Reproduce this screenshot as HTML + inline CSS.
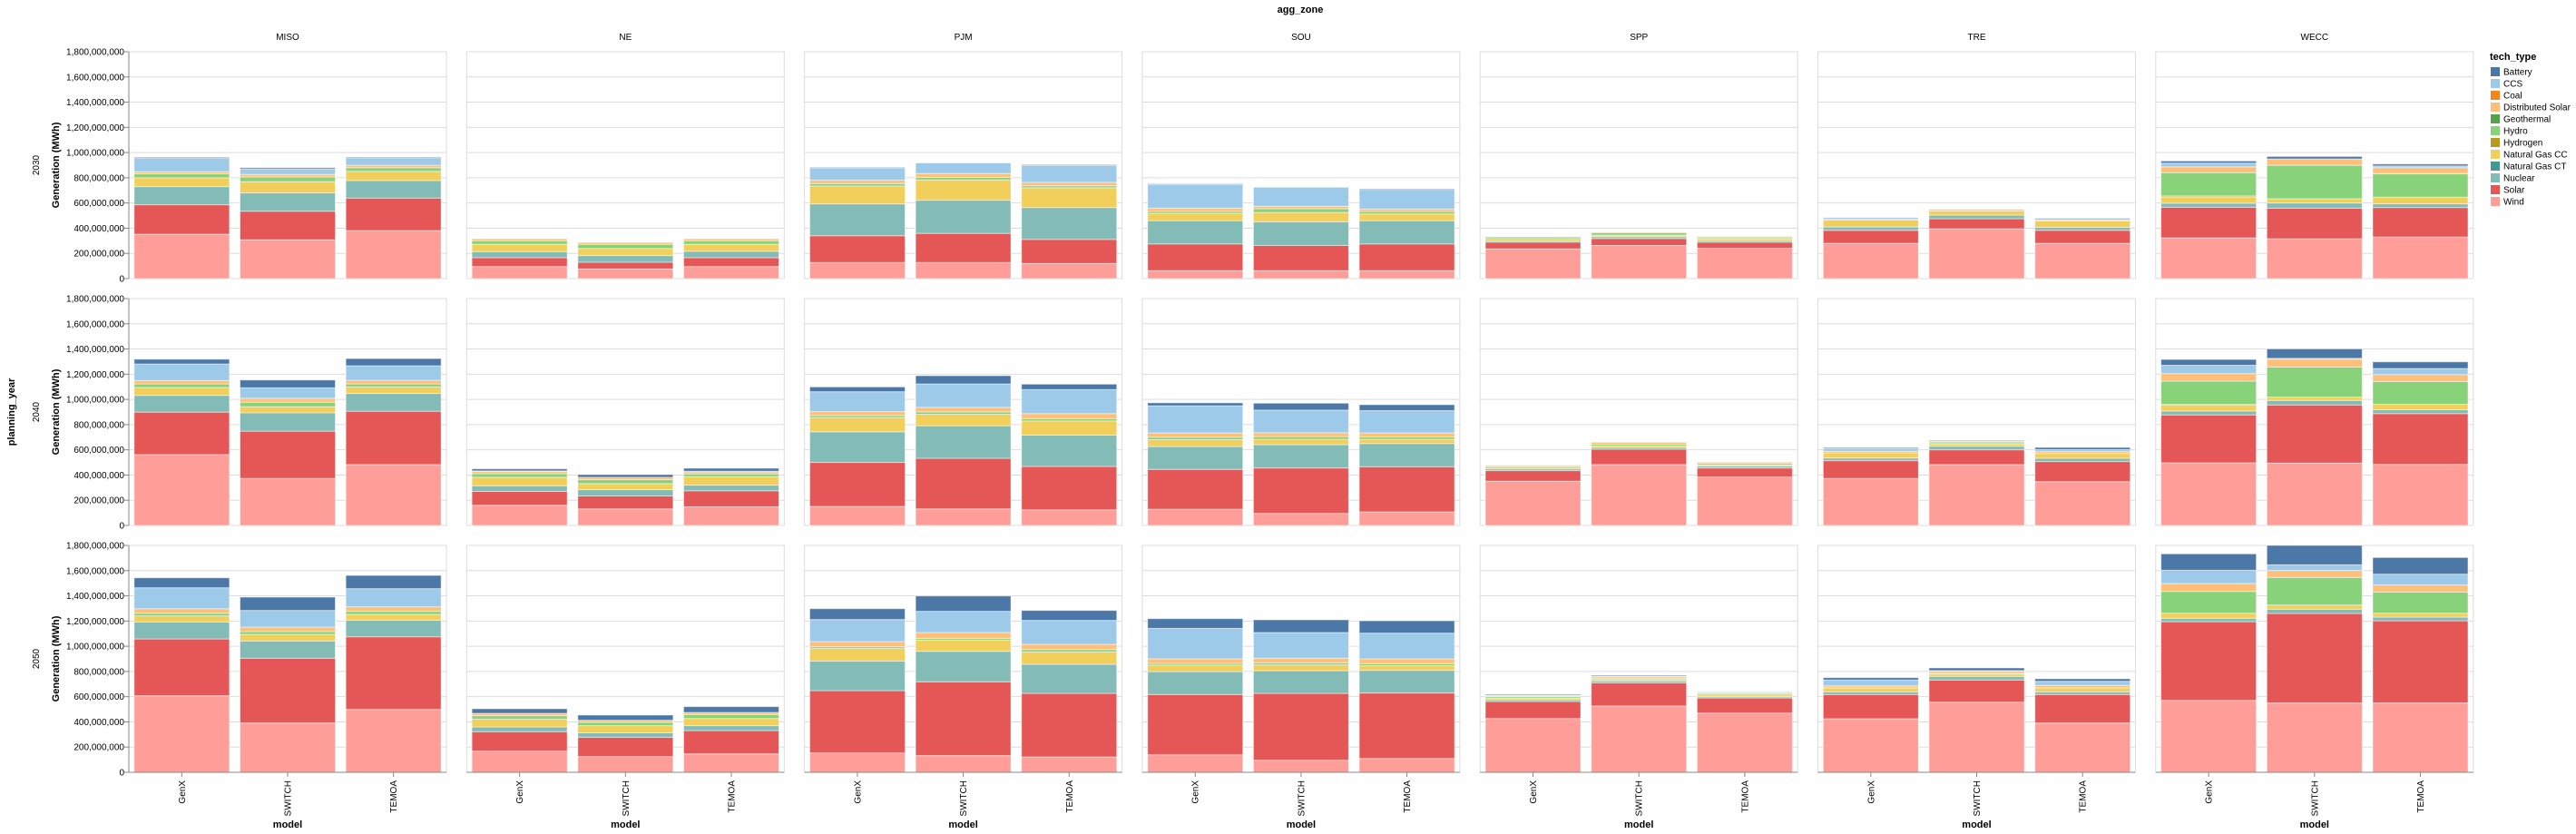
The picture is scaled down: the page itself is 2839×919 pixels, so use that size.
<!DOCTYPE html>
<html><head><meta charset="utf-8">
<style>
html,body{margin:0;padding:0;background:#fff;}
svg{display:block;font-family:"Liberation Sans",Arial,sans-serif;}
</style></head>
<body>
<svg id="chart" width="2839" height="919" viewBox="0 0 2839 919" xmlns="http://www.w3.org/2000/svg"></svg>
<script>
const zones = ["MISO","NE","PJM","SOU","SPP","TRE","WECC"];
const years = ["2030","2040","2050"];
const models = ["GenX","SWITCH","TEMOA"];
const yTicks = [0,200,400,600,800,1000,1200,1400,1600,1800];
const yTickLabels = ["0","200,000,000","400,000,000","600,000,000","800,000,000","1,000,000,000","1,200,000,000","1,400,000,000","1,600,000,000","1,800,000,000"];
const techs = ["Battery","CCS","Coal","Distributed Solar","Geothermal","Hydro","Hydrogen","Natural Gas CC","Natural Gas CT","Nuclear","Solar","Wind"];
const techColors = ["#4c78a8","#9ecae9","#f58518","#ffbf79","#54a24b","#88d27a","#b79a20","#f2cf5b","#439894","#83bcb6","#e45756","#ff9d98"];
// values in millions MWh; order: year x zone x model
const wind = [352,308,381,96,77,96,128,128,120,63,63,63,236,263,241,280,395,280,323,316,330,
562,373,483,160,131,148,151,131,124,129,96,108,351,483,385,373,483,347,497,495,485,
607,391,499,168,125,146,154,132,122,139,96,110,427,526,470,425,557,391,571,550,550];
const solar = [234,227,258,70,53,70,212,231,191,212,200,212,53,55,48,103,80,103,243,243,234,
337,375,423,110,103,127,349,402,344,316,360,358,84,122,71,141,117,160,380,461,402,
451,514,576,154,153,185,494,586,504,478,530,519,135,184,120,192,175,226,624,710,652];
const nuclear = [144,145,139,48,53,51,253,263,253,185,188,185,10,15,12,27,29,24,32,41,29,
133,146,141,45,50,45,243,258,249,181,185,184,14,14,15,21,29,26,31,36,31,
135,137,132,38,36,39,235,242,231,182,180,180,14,15,10,21,29,21,27,34,29];
const ngct = [0,0,0,0,0,0,0,0,0,0,0,0,0,0,0,0,0,0,0,0,0,
0,0,0,0,0,0,0,0,0,0,0,0,0,0,0,0,0,0,0,0,0,
0,0,0,0,0,0,0,0,0,0,0,0,0,0,0,0,0,0,0,0,0];
const ngcc = [70,89,73,58,56,55,142,161,157,58,74,53,19,12,15,55,33,51,50,34,53,
63,48,52,67,48,67,113,91,112,55,43,34,15,12,9,39,16,38,46,26,43,
48,52,46,62,56,57,99,89,98,51,46,36,12,12,14,32,19,32,40,33,31];
const hydrogen = [0,0,0,0,0,0,0,0,0,0,0,0,0,0,0,0,0,0,8,0,0,
0,0,0,0,0,0,0,0,0,0,0,0,0,0,0,0,0,0,7,0,0,
0,0,0,0,0,0,0,0,0,0,0,0,0,0,0,0,0,0,0,0,0];
const hydro = [31,38,29,29,33,29,19,20,16,15,29,20,12,19,9,0,0,0,185,265,185,
28,36,24,29,31,22,16,19,19,19,21,19,9,14,12,0,10,0,184,239,181,
21,22,24,27,26,31,14,14,19,14,17,17,12,9,10,0,5,0,173,219,168];
const geothermal = [0,0,0,0,0,0,0,0,0,0,0,0,0,0,0,0,0,0,0,0,3,
0,0,0,0,0,0,0,0,0,0,0,0,0,0,0,0,0,0,0,0,0,
0,0,0,0,0,0,0,0,0,0,0,0,0,0,0,0,0,0,0,0,0];
const distSolar = [17,20,19,15,15,15,27,31,27,26,20,19,0,5,10,5,12,7,46,51,46,
27,31,29,17,19,16,31,36,39,34,31,31,5,15,10,14,12,15,60,62,55,
36,36,36,19,17,17,41,46,41,36,36,38,7,12,7,16,17,19,63,55,56];
const coal = [0,0,0,0,0,0,0,0,0,0,0,0,0,0,0,0,0,0,0,0,0,
0,0,0,0,0,0,0,0,0,0,0,0,0,0,0,0,0,0,0,0,0,
0,0,0,0,0,0,0,0,0,0,0,0,0,0,0,0,0,0,0,0,0];
const ccs = [106,43,60,0,0,0,94,84,135,188,151,156,0,0,0,14,0,15,29,0,14,
131,83,115,5,0,5,158,186,191,215,179,177,0,0,0,24,5,16,66,7,48,
166,132,144,0,0,0,175,168,190,242,204,204,5,5,7,46,5,33,105,45,86];
const battery = [8,10,5,0,0,0,7,0,5,5,0,5,0,0,0,0,0,0,17,19,15,
38,62,57,16,22,24,38,65,43,24,55,47,0,0,0,7,4,17,46,75,53,
79,106,105,36,41,46,86,122,79,77,101,98,7,7,0,19,21,20,130,154,132];

// stacking order bottom -> top
const stack = [["Wind",wind],["Solar",solar],["Nuclear",nuclear],["Natural Gas CT",ngct],["Natural Gas CC",ngcc],["Hydrogen",hydrogen],["Hydro",hydro],["Geothermal",geothermal],["Distributed Solar",distSolar],["Coal",coal],["CCS",ccs],["Battery",battery]];

const NS="http://www.w3.org/2000/svg";
const svg=document.getElementById('chart');
const X0=142, COLSTEP=372.3, PW=350, Y0=57, ROWSTEP=272, PH=250, YMAX=1800;
function mk(tag,attrs,parent){const e=document.createElementNS(NS,tag);for(const k in attrs)e.setAttribute(k,attrs[k]);(parent||svg).appendChild(e);return e;}
function yScale(r,v){return Y0+r*ROWSTEP+PH-(v/YMAX)*PH;}
function xBand(c,m){const step=PW/3;return X0+c*COLSTEP+step*0.05+m*step;}
const BW=PW/3*0.9;
function colorOf(t){return techColors[techs.indexOf(t)];}

let t;
t=mk('text',{x:1433,y:14,'text-anchor':'middle','font-size':11,'font-weight':'bold',fill:'#000'});
t.textContent='agg_zone';


t=mk('text',{transform:'translate(16,454) rotate(-90)','text-anchor':'middle','font-size':11,'font-weight':'bold',fill:'#000'});
t.textContent='planning_year';



zones.forEach((z,c)=>{
  const h=mk('text',{x:X0+c*COLSTEP+PW/2,y:44,'text-anchor':'middle','font-size':10,fill:'#000'});
  h.textContent=z;
  
  
});

years.forEach((yr,r)=>{
  const top=Y0+r*ROWSTEP;
  const rl=mk('text',{transform:`translate(43,${top+PH/2}) rotate(-90)`,'text-anchor':'middle','font-size':10,fill:'#000'});
  rl.textContent=yr;
  
  
  const yt=mk('text',{transform:`translate(65,${top+PH/2}) rotate(-90)`,'text-anchor':'middle','font-size':11,'font-weight':'bold',fill:'#000'});
  yt.textContent='Generation (MWh)';
  
  
  yTicks.forEach((v,i)=>{
    const y=yScale(r,v);
    const tl=mk('text',{x:137,y:y+3.5,'text-anchor':'end','font-size':10,fill:'#000'});
    tl.textContent=yTickLabels[i];
    
    
    mk('line',{x1:137,x2:142,y1:y,y2:y,stroke:'#888','stroke-width':1});
  });
  zones.forEach((z,c)=>{
    const px=X0+c*COLSTEP;
    const g=mk('g',{});
    
    
    mk('rect',{x:px,y:top,width:PW,height:PH,fill:'#fff',stroke:'#ddd','stroke-width':1},g);
    yTicks.forEach(v=>{const y=yScale(r,v);mk('line',{x1:px,x2:px+PW,y1:y,y2:y,stroke:'#ddd','stroke-width':1},g);});
    models.forEach((m,mi)=>{
      const idx=r*21+c*3+mi;
      let cum=0;
      const bx=xBand(c,mi);
      stack.forEach(([name,arr])=>{
        const v=arr[idx];
        if(!v){return;}
        const y1=yScale(r,cum), y2=yScale(r,cum+v);
        cum+=v;
        const rc=mk('rect',{x:bx,y:y2,width:BW,height:Math.max(0,y1-y2),fill:colorOf(name),stroke:'#fff','stroke-opacity':0.5,'stroke-width':1},g);
        
        
      });
    });
  });
  mk('line',{x1:142,x2:142,y1:top,y2:top+PH,stroke:'#888','stroke-width':1});
});

// x axes on bottom row
zones.forEach((z,c)=>{
  const px=X0+c*COLSTEP, by=Y0+2*ROWSTEP+PH;
  mk('line',{x1:px,x2:px+PW,y1:by,y2:by,stroke:'#888','stroke-width':1});
  models.forEach((m,mi)=>{
    const cx=xBand(c,mi)+BW/2;
    mk('line',{x1:cx,x2:cx,y1:by,y2:by+5,stroke:'#888','stroke-width':1});
    const l=mk('text',{transform:`translate(${cx+3.5},${by+9}) rotate(-90)`,'text-anchor':'end','font-size':10,fill:'#000'});
    l.textContent=m;
    
    
  });
  const xt=mk('text',{x:px+PW/2,y:912,'text-anchor':'middle','font-size':11,'font-weight':'bold',fill:'#000'});
  xt.textContent='model';
  
  
});

// legend
const lg=mk('g',{});


t=mk('text',{x:2744,y:66,'font-size':11,'font-weight':'bold',fill:'#000'},lg);
t.textContent='tech_type';


techs.forEach((name,i)=>{
  const cy=79+i*13;
  const e=mk('g',{},lg);
  
  
  mk('rect',{x:2745,y:cy-5,width:10,height:10,fill:techColors[i]},e);
  const tx=mk('text',{x:2759,y:cy+3.5,'font-size':10,fill:'#000'},e);
  tx.textContent=name;
});
</script>
</body></html>
